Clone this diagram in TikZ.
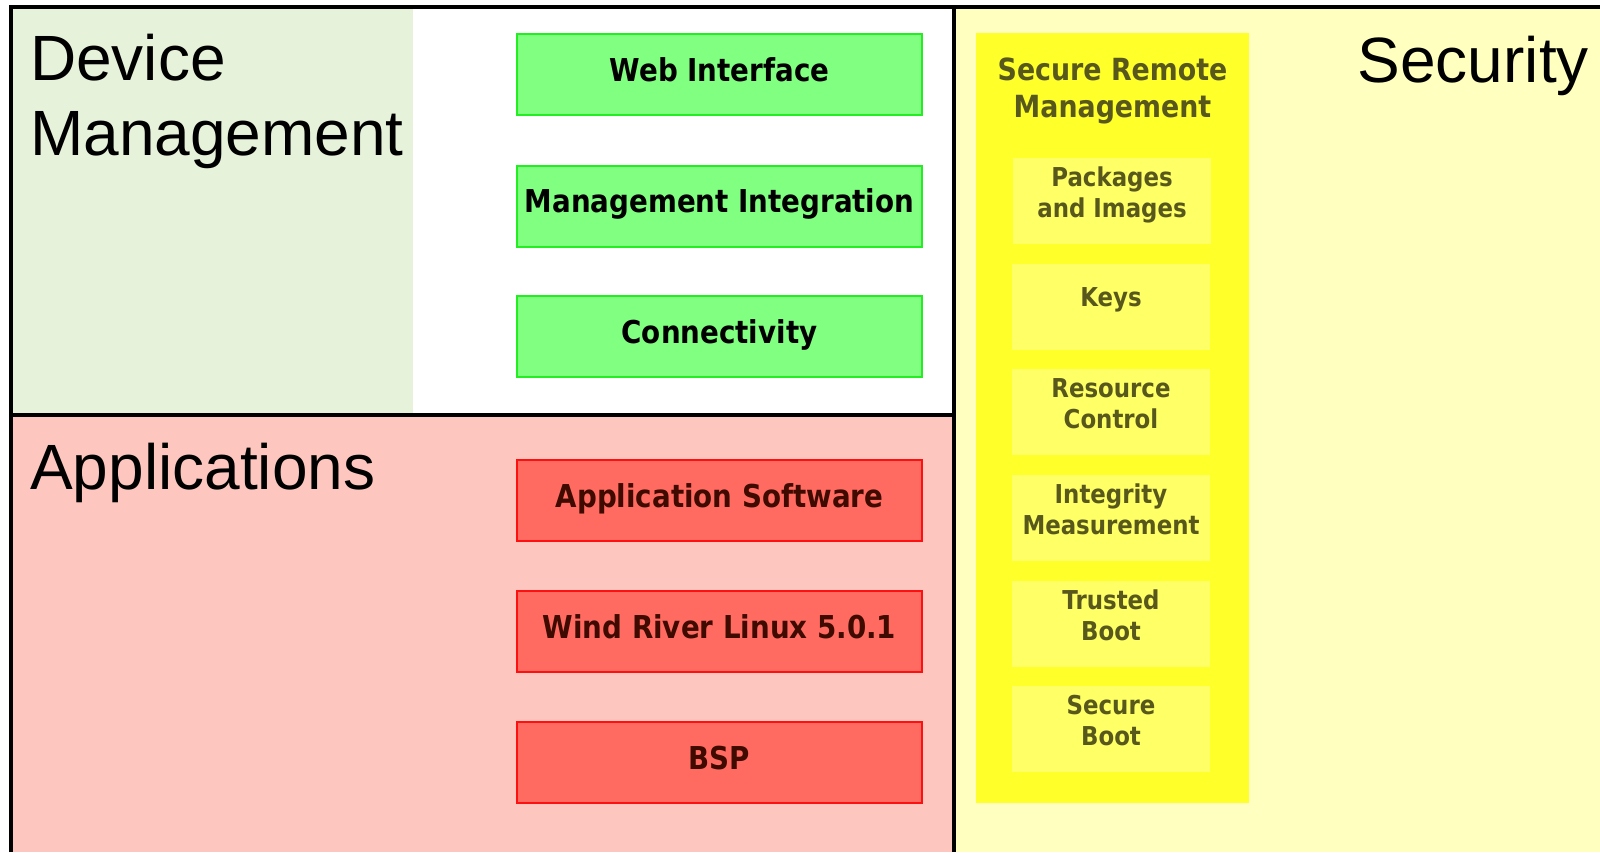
\documentclass[tikz,border=0pt]{standalone}
\usepackage{fontspec}
\setmainfont{Liberation Sans}
\newfontfamily\boxfont{DejaVu Sans}[FakeStretch=0.88]

\definecolor{dmgreen}{HTML}{E6F2DA}
\definecolor{appink}{HTML}{FDC7C0}
\definecolor{secyellow}{HTML}{FFFFC0}
\definecolor{srmyellow}{HTML}{FFFF2A}
\definecolor{itemyellow}{HTML}{FFFF66}
\definecolor{itemtext}{HTML}{58581C}
\definecolor{boxgreen}{HTML}{80FF80}
\definecolor{boxgreenline}{HTML}{22EE22}
\definecolor{boxred}{HTML}{FF6A61}
\definecolor{boxredline}{HTML}{FF1010}
\definecolor{boxredtext}{HTML}{3F0A00}

\tikzset{
  frame/.style={line width=4pt, draw=black},
  areatitle/.style={inner sep=0pt, font=\fontsize{64}{75}\selectfont, text=black},
  layerbox/.style={line width=2pt, minimum width=405pt, minimum height=81pt,
    inner sep=0pt, text height=22pt, text depth=9pt,
    font=\boxfont\bfseries\fontsize{31.5}{38}\selectfont},
  greenbox/.style={layerbox, draw=boxgreenline, fill=boxgreen, text=black},
  redbox/.style={layerbox, draw=boxredline, fill=boxred, text=boxredtext},
  srmcolumn/.style={fill=srmyellow, draw=none, minimum width=273pt,
    minimum height=770pt, inner sep=0pt},
  srmtitle/.style={inner sep=0pt, align=center, text=itemtext,
    font=\boxfont\bfseries\fontsize{30.5}{37}\selectfont},
  srmitem/.style={fill=itemyellow, draw=none, minimum width=198pt,
    minimum height=86pt, inner sep=0pt, align=center, text=itemtext,
    text height=45pt, text depth=12pt,
    font=\boxfont\bfseries\fontsize{26}{31}\selectfont},
  srmsingle/.style={text height=10pt, text depth=11pt}
}

\begin{document}
\begin{tikzpicture}[x=1pt, y=-1pt]
\useasboundingbox (0,0) rectangle (1600,852);

% area backgrounds
\fill[white] (0,0) rectangle (1600,852);
\fill[dmgreen] (10.5,6.5) rectangle (413,414.5);
\fill[appink] (10.5,414.5) rectangle (954,852);
\fill[secyellow] (954,6.5) rectangle (1600,852);

% area frame
\draw[frame] (10.5,852) -- (10.5,6.5) -- (1600,6.5);
\draw[frame] (954,6.5) -- (954,852);
\draw[frame] (10.5,414.5) -- (954,414.5);

% area titles
\node[areatitle, anchor=base west, align=left] (dmtitle) at (30,155) {Device\\Management};
\node[areatitle, anchor=base west] (apptitle) at (30,489) {Applications};
\node[areatitle, anchor=base east] (sectitle) at (1589,82) {Security};

% device management layers
\node[greenbox] (web)  at (719.5,74.5) {Web Interface};
\node[greenbox] (mint) at (719.5,206)  {Management Integration};
\node[greenbox] (conn) at (719.5,336.5) {Connectivity};

% application layers
\node[redbox] (appsw) at (719.5,500.5) {Application Software};
\node[redbox] (wrl)   at (719.5,631.5) {Wind River Linux 5.0.1};
\node[redbox] (bsp)   at (719.5,762.5) {BSP};

% secure remote management column
\node[srmcolumn] (srm) at (1112.5,418) {};
\node[srmtitle, anchor=base] (srmhead) at (1112.5,117) {Secure Remote\\Management};

\node[srmitem] (pkg)   at (1112,200.5) {Packages\\and Images};
\node[srmitem, srmsingle] (keys) at (1111,306.5) {Keys};
\node[srmitem] (res)   at (1111,412)   {Resource\\Control};
\node[srmitem] (integ) at (1111,517.5) {Integrity\\Measurement};
\node[srmitem] (tboot) at (1111,623.5) {Trusted\\Boot};
\node[srmitem] (sboot) at (1111,729)   {Secure\\Boot};
\end{tikzpicture}
\end{document}
